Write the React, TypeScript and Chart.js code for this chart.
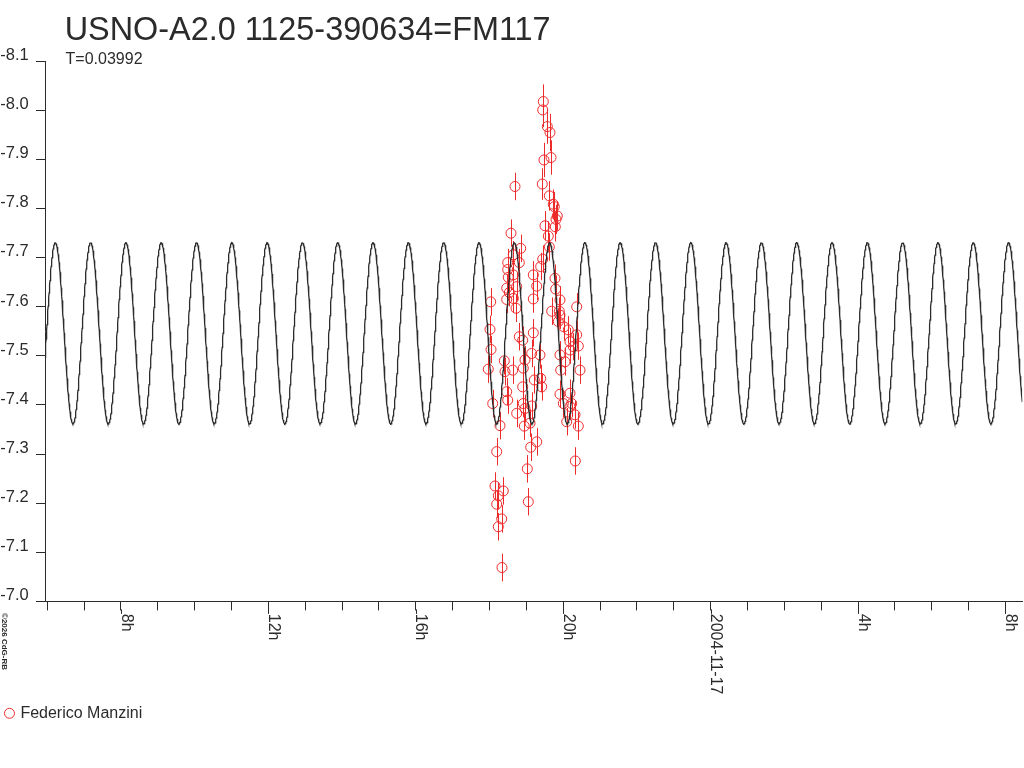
import { useEffect, useRef } from 'react';
import { Chart, registerables } from 'chart.js';

Chart.register(...registerables);

// ---- texts ----
const TITLE = 'USNO-A2.0 1125-390634=FM117';
const SUBTITLE = 'T=0.03992';
const OBSERVER = 'Federico Manzini';
const COPYRIGHT = '©2026 CdG-RB';

// ---- axes (hours counted from 2004-11-16 00:00 UT) ----
const X_MIN_H = 5.938;
const X_MAX_H = 32.458;
const Y_TOP = -8.1;
const Y_BOTTOM = -7.0;
const Y_TICKS = [-8.1, -8.0, -7.9, -7.8, -7.7, -7.6, -7.5, -7.4, -7.3, -7.2, -7.1, -7.0];
const X_TICK_HOURS = [6, 7, 8, 9, 10, 11, 12, 13, 14, 15, 16, 17, 18, 19, 20, 21, 22, 23, 24, 25, 26, 27, 28, 29, 30, 31, 32];
const X_LABEL_HOURS = [8, 12, 16, 20, 24, 28, 32];
const X_LABEL_TEXTS = ['8h', '12h', '16h', '20h', '2004-11-17', '4h', '8h'];

// ---- observations (hour, magnitude, error) ----
const obsHours = [
  19.460, 19.444, 19.569, 19.642, 19.479, 19.669, 18.692, 19.433, 19.623, 19.731,
  19.758, 19.840, 19.805, 19.506, 19.786, 18.583, 19.596, 18.847, 19.623, 18.494,
  18.809, 18.646, 19.444, 19.389, 18.494, 19.189, 18.510, 18.738, 19.281, 19.777,
  19.796, 18.537, 18.646, 18.032, 18.467, 19.189, 18.719, 19.688, 19.894, 20.366,
  19.867, 20.022, 20.138, 18.013, 18.041, 18.809, 18.901, 19.189, 20.366, 20.184,
  20.410, 20.184, 19.913, 19.145, 19.370, 18.963, 18.402, 20.049, 17.967, 18.630,
  18.917, 18.421, 19.932, 20.456, 19.216, 19.389, 18.901, 18.467, 19.416, 19.913,
  20.184, 20.003, 20.231, 18.087, 18.494, 18.917, 18.738, 18.285, 18.944, 19.145,
  19.099, 20.095, 20.410, 20.320, 19.281, 19.118, 18.195, 20.328, 19.026, 18.149,
  18.374, 18.239, 18.195, 19.053, 18.331, 18.239, 18.339, 18.646, 18.467, 19.913,
  19.913, 18.963, 20.184, 20.274,
];
const obsMags = [
  -8.018, -8.001, -7.967, -7.955, -7.899, -7.904, -7.845, -7.850, -7.826, -7.809,
  -7.804, -7.785, -7.778, -7.765, -7.763, -7.750, -7.744, -7.719, -7.722, -7.690,
  -7.690, -7.706, -7.697, -7.682, -7.676, -7.665, -7.660, -7.641, -7.642, -7.658,
  -7.636, -7.629, -7.617, -7.610, -7.615, -7.616, -7.597, -7.591, -7.591, -7.600,
  -7.570, -7.559, -7.553, -7.554, -7.513, -7.539, -7.532, -7.547, -7.543, -7.529,
  -7.520, -7.512, -7.502, -7.505, -7.502, -7.492, -7.490, -7.488, -7.473, -7.471,
  -7.475, -7.468, -7.471, -7.471, -7.451, -7.454, -7.437, -7.427, -7.437, -7.422,
  -7.424, -7.403, -7.403, -7.403, -7.410, -7.403, -7.383, -7.358, -7.357, -7.398,
  -7.363, -7.366, -7.357, -7.380, -7.325, -7.314, -7.305, -7.286, -7.270, -7.235,
  -7.225, -7.215, -7.198, -7.203, -7.168, -7.152, -7.069, -7.665, -7.638, -7.614,
  -7.583, -7.393, -7.397, -7.519,
];
const obsErrs = [
  0.035, 0.035, 0.035, 0.038, 0.035, 0.035, 0.028, 0.032, 0.030, 0.030,
  0.030, 0.030, 0.030, 0.030, 0.030, 0.028, 0.030, 0.028, 0.028, 0.028,
  0.028, 0.028, 0.028, 0.028, 0.028, 0.028, 0.028, 0.028, 0.028, 0.028,
  0.028, 0.028, 0.028, 0.028, 0.028, 0.028, 0.028, 0.028, 0.028, 0.028,
  0.028, 0.028, 0.028, 0.028, 0.028, 0.028, 0.028, 0.028, 0.028, 0.028,
  0.028, 0.028, 0.028, 0.028, 0.028, 0.028, 0.028, 0.028, 0.028, 0.028,
  0.028, 0.028, 0.028, 0.028, 0.028, 0.028, 0.028, 0.028, 0.028, 0.028,
  0.028, 0.028, 0.028, 0.028, 0.028, 0.028, 0.028, 0.028, 0.028, 0.028,
  0.028, 0.028, 0.028, 0.028, 0.028, 0.028, 0.028, 0.028, 0.028, 0.028,
  0.028, 0.028, 0.028, 0.028, 0.028, 0.028, 0.028, 0.028, 0.028, 0.028,
  0.028, 0.028, 0.028, 0.028,
];

// ---- fitted sinusoid shown in the chart (period from subtitle) ----
const FIT_PERIOD_DAYS = 0.03992;
const FIT_MEAN = -7.546;
const FIT_AMPLITUDE = 0.1846;
const FIT_EPOCH_H = 6.219; // time of a brightness maximum
const FIT_STEP_H = 0.008;

const RED = '#ee2b2b';
const AXIS = '#2b2b2b';
const TEXT = '#2b2b2b';
const FONT = '"Liberation Sans", Arial, sans-serif';

function buildFit() {
  const pts: { x: number; y: number }[] = [];
  const periodH = FIT_PERIOD_DAYS * 24;
  for (let h = X_MIN_H; h <= X_MAX_H + 1e-9; h += FIT_STEP_H) {
    pts.push({ x: h, y: FIT_MEAN - FIT_AMPLITUDE * Math.cos((2 * Math.PI * (h - FIT_EPOCH_H)) / periodH) });
  }
  pts.push({ x: X_MAX_H, y: FIT_MEAN - FIT_AMPLITUDE * Math.cos((2 * Math.PI * (X_MAX_H - FIT_EPOCH_H)) / periodH) });
  return pts;
}

const overlay = {
  id: 'overlay',
  beforeDatasetsDraw(chart: any) {
    const ctx = chart.ctx as CanvasRenderingContext2D;
    const xs = chart.scales.x;
    const ys = chart.scales.y;
    ctx.save();
    ctx.strokeStyle = RED;
    ctx.lineWidth = 1;
    for (let i = 0; i < obsHours.length; i++) {
      const px = Math.round(xs.getPixelForValue(obsHours[i])) + 0.5;
      const y1 = ys.getPixelForValue(obsMags[i] - obsErrs[i]);
      const y2 = ys.getPixelForValue(obsMags[i] + obsErrs[i]);
      ctx.beginPath();
      ctx.moveTo(px, y1);
      ctx.lineTo(px, y2);
      ctx.stroke();
    }
    ctx.restore();
  },
  afterDraw(chart: any) {
    const ctx = chart.ctx as CanvasRenderingContext2D;
    const xs = chart.scales.x;
    const ys = chart.scales.y;
    const bottom = chart.chartArea.bottom;
    ctx.save();
    ctx.fillStyle = TEXT;
    ctx.textAlign = 'left';
    ctx.textBaseline = 'alphabetic';

    // title + subtitle
    ctx.font = `32.4px ${FONT}`;
    ctx.fillText(TITLE, 64.7, 40);
    ctx.font = `16px ${FONT}`;
    ctx.fillText(SUBTITLE, 65.6, 64.3);

    // y labels (sit slightly above their tick)
    ctx.font = `16.5px ${FONT}`;
    for (const v of Y_TICKS) {
      const py = ys.getPixelForValue(v);
      ctx.fillText(v.toFixed(1), 0.3, py - 1.3);
    }

    // longer major ticks on the time axis
    ctx.strokeStyle = AXIS;
    ctx.lineWidth = 1;
    for (const h of X_LABEL_HOURS) {
      const px = Math.round(xs.getPixelForValue(h)) + 0.5;
      ctx.beginPath();
      ctx.moveTo(px, bottom + 8);
      ctx.lineTo(px, bottom + 12.5);
      ctx.stroke();
    }

    // time labels, rotated clockwise
    ctx.font = `16px ${FONT}`;
    X_LABEL_HOURS.forEach((h, i) => {
      const px = xs.getPixelForValue(h);
      ctx.save();
      ctx.translate(px + 0.7, bottom + 12.4);
      ctx.rotate(Math.PI / 2);
      ctx.fillText(X_LABEL_TEXTS[i], 0, 0);
      ctx.restore();
    });

    // copyright, rotated
    ctx.save();
    ctx.font = `bold 8px ${FONT}`;
    ctx.translate(1.8, 613);
    ctx.rotate(Math.PI / 2);
    ctx.fillText(COPYRIGHT, 0, 0);
    ctx.restore();

    // legend
    ctx.strokeStyle = RED;
    ctx.beginPath();
    ctx.arc(9.5, 713.3, 5, 0, Math.PI * 2);
    ctx.stroke();
    ctx.fillStyle = TEXT;
    ctx.font = `16px ${FONT}`;
    ctx.fillText(OBSERVER, 20.4, 717.7);
    ctx.restore();
  },
};

export default function App() {
  const ref = useRef<HTMLCanvasElement | null>(null);

  useEffect(() => {
    document.body.style.margin = '0';
    const canvas = ref.current;
    if (!canvas) return;
    const fit = buildFit();
    const obs = obsHours.map((h, i) => ({ x: h, y: obsMags[i] }));

    const chart = new Chart(canvas, {
      type: 'scatter',
      data: {
        datasets: [
          {
            type: 'line',
            label: 'fit',
            data: fit,
            borderColor: AXIS,
            borderWidth: 1.3,
            pointRadius: 0,
            fill: false,
            tension: 0,
          } as any,
          {
            label: OBSERVER,
            data: obs,
            pointStyle: 'circle',
            pointRadius: 5,
            pointBorderWidth: 1,
            borderColor: RED,
            backgroundColor: 'rgba(0,0,0,0)',
            pointBackgroundColor: 'rgba(0,0,0,0)',
            pointBorderColor: RED,
          } as any,
        ],
      },
      options: {
        animation: false,
        responsive: false,
        devicePixelRatio: 1,
        events: [],
        layout: { autoPadding: false, padding: { top: 61.3, right: 1.7, left: 0, bottom: 0 } },
        plugins: {
          legend: { display: false },
          title: { display: false },
          tooltip: { enabled: false },
        },
        scales: {
          x: {
            type: 'linear',
            min: X_MIN_H,
            max: X_MAX_H,
            afterBuildTicks: (s: any) => {
              s.ticks = X_TICK_HOURS.map((v) => ({ value: v }));
            },
            ticks: { display: false },
            grid: { display: true, drawOnChartArea: false, drawTicks: true, tickLength: 9, color: AXIS, lineWidth: 1 },
            border: { display: true, color: AXIS, width: 1 },
            afterFit: (s: any) => {
              s.height = 768 - 601.4;
            },
          },
          y: {
            type: 'linear',
            reverse: true,
            min: Y_TOP,
            max: Y_BOTTOM,
            afterBuildTicks: (s: any) => {
              s.ticks = Y_TICKS.map((v) => ({ value: v }));
            },
            ticks: { display: false },
            grid: { display: true, drawOnChartArea: false, drawTicks: true, tickLength: 9, color: AXIS, lineWidth: 1 },
            border: { display: true, color: AXIS, width: 1 },
            afterFit: (s: any) => {
              s.width = 45;
            },
          },
        },
      } as any,
      plugins: [overlay],
    });
    return () => chart.destroy();
  }, []);

  return (
    <div style={{ position: 'fixed', left: 0, top: 0, width: 1024, height: 768, background: '#fff' }}>
      <canvas ref={ref} width={1024} height={768} style={{ width: 1024, height: 768, display: 'block' }} />
    </div>
  );
}
